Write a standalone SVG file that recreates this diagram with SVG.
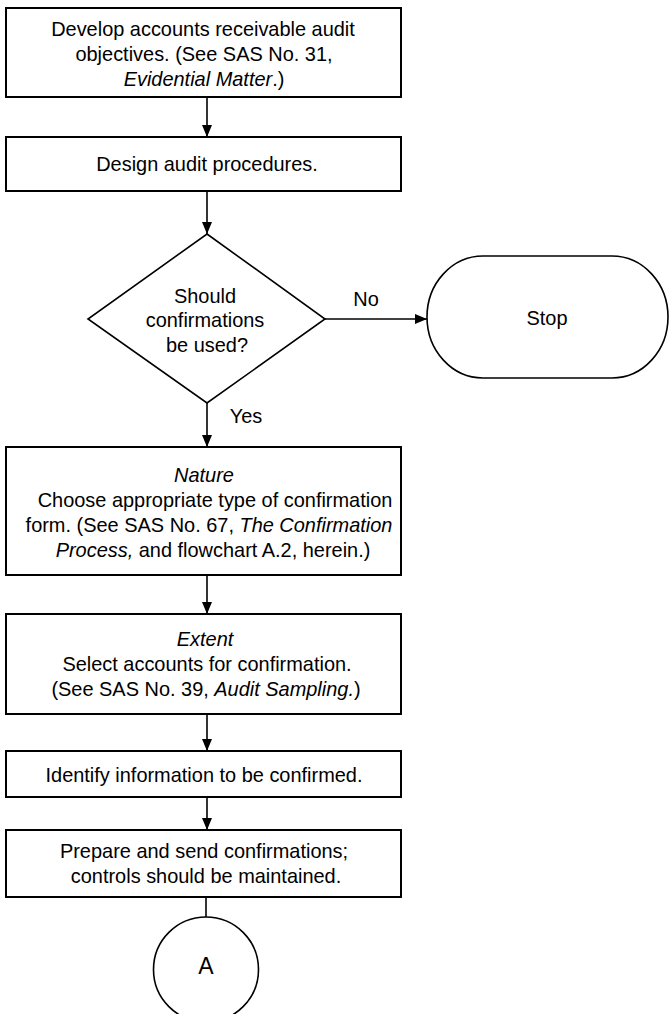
<svg xmlns="http://www.w3.org/2000/svg" width="670" height="1014" viewBox="0 0 670 1014">
<defs>
<marker id="ah" viewBox="0 0 12 10" refX="12" refY="5" markerWidth="12" markerHeight="10" markerUnits="userSpaceOnUse" orient="auto">
<path d="M0,0 L12,5 L0,10 Z" fill="#000"/>
</marker>
</defs>
<style>
.box{fill:#fff;stroke:#000;stroke-width:2}
.shape{fill:#fff;stroke:#000;stroke-width:1.6}
.t{font-family:"Liberation Sans",Arial,sans-serif;font-size:21px;fill:#000;text-anchor:middle}
.i{font-style:italic}
.c{stroke:#000;stroke-width:1.6;fill:none}
</style>
<rect width="670" height="1014" fill="#fff"/>
<g id="connectors">
<line class="c" x1="207" y1="97" x2="207" y2="137" marker-end="url(#ah)"/>
<line class="c" x1="207" y1="191" x2="207" y2="234" marker-end="url(#ah)"/>
<line class="c" x1="325" y1="319" x2="427" y2="319" marker-end="url(#ah)"/>
<line class="c" x1="207" y1="403" x2="207" y2="447" marker-end="url(#ah)"/>
<line class="c" x1="207" y1="575" x2="207" y2="614" marker-end="url(#ah)"/>
<line class="c" x1="207" y1="714" x2="207" y2="751" marker-end="url(#ah)"/>
<line class="c" x1="207" y1="797" x2="207" y2="830" marker-end="url(#ah)"/>
<line class="c" x1="206" y1="897" x2="206" y2="917"/>
<text class="t" transform="translate(366,306) scale(0.95,1)">No</text>
<text class="t" transform="translate(246,423) scale(0.95,1)">Yes</text>
</g>
<g id="n1">
<rect class="box" x="6" y="8" width="395" height="89"/>
<text class="t" transform="translate(203,36) scale(0.95,1)">Develop accounts receivable audit</text>
<text class="t" transform="translate(204,61) scale(0.95,1)">objectives. (See SAS No. 31,</text>
<text class="t" transform="translate(204,86) scale(0.95,1)"><tspan class="i">Evidential Matter</tspan>.)</text>
</g>
<g id="n2">
<rect class="box" x="6" y="137" width="395" height="54"/>
<text class="t" transform="translate(207,171) scale(0.95,1)">Design audit procedures.</text>
</g>
<g id="n3">
<polygon class="shape" points="207,234 325,319 207,403 88,319"/>
<text class="t" transform="translate(205,303) scale(0.95,1)">Should</text>
<text class="t" transform="translate(205,327) scale(0.95,1)">confirmations</text>
<text class="t" transform="translate(207,352) scale(0.95,1)">be used?</text>
</g>
<g id="stop">
<rect class="shape" x="427" y="256" width="241" height="122" rx="56" ry="61"/>
<text class="t" transform="translate(547,325) scale(0.95,1)">Stop</text>
</g>
<g id="n4">
<rect class="box" x="6" y="447" width="395" height="128"/>
<text class="t i" transform="translate(204,482) scale(0.95,1)">Nature</text>
<text class="t" transform="translate(215,507) scale(0.95,1)">Choose appropriate type of confirmation</text>
<text class="t" transform="translate(209,532) scale(0.95,1)">form. (See SAS No. 67, <tspan class="i">The Confirmation</tspan></text>
<text class="t" transform="translate(213,557) scale(0.95,1)"><tspan class="i">Process,</tspan> and flowchart A.2, herein.)</text>
</g>
<g id="n5">
<rect class="box" x="6" y="614" width="395" height="100"/>
<text class="t i" transform="translate(205,646) scale(0.95,1)">Extent</text>
<text class="t" transform="translate(207,671) scale(0.95,1)">Select accounts for confirmation.</text>
<text class="t" transform="translate(206,696) scale(0.95,1)">(See SAS No. 39, <tspan class="i">Audit Sampling.</tspan>)</text>
</g>
<g id="n6">
<rect class="box" x="6" y="751" width="395" height="46"/>
<text class="t" transform="translate(204,782) scale(0.95,1)">Identify information to be confirmed.</text>
</g>
<g id="n7">
<rect class="box" x="6" y="830" width="395" height="67"/>
<text class="t" transform="translate(204,858) scale(0.95,1)">Prepare and send confirmations;</text>
<text class="t" transform="translate(206,883) scale(0.95,1)">controls should be maintained.</text>
</g>
<g id="A">
<circle class="shape" cx="206" cy="969.5" r="52.5"/>
<text class="t" x="206" y="974" style="font-size:23px">A</text>
</g>
</svg>
